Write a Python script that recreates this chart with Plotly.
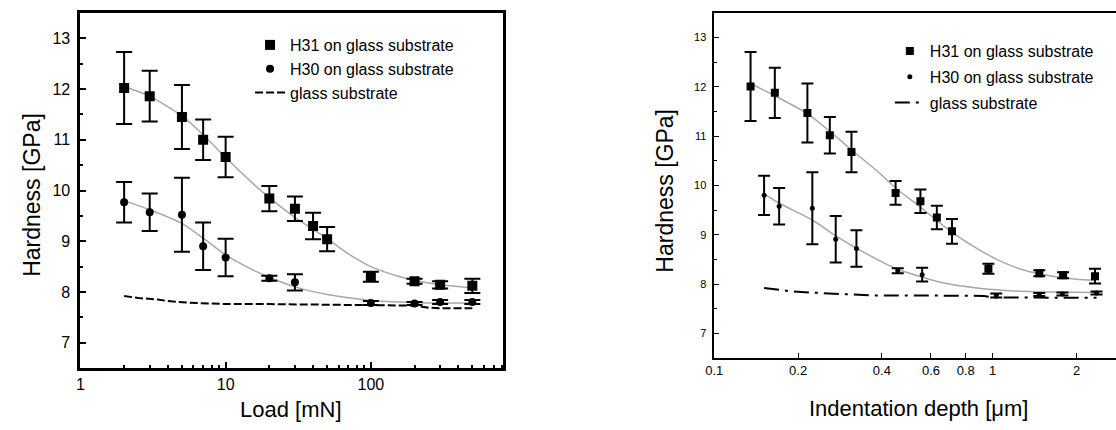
import plotly.graph_objects as go

W, H = 1116, 430

# ---------------- Left panel: Hardness vs Load ----------------
load_h31 = [2, 3, 5, 7, 10, 20, 30, 40, 50, 100, 200, 300, 500]
h31_load = [12.02, 11.86, 11.45, 11.0, 10.66, 9.84, 9.64, 9.3, 9.04, 8.3, 8.21, 8.14, 8.12]
h31_load_err = [0.71, 0.5, 0.63, 0.4, 0.4, 0.25, 0.24, 0.26, 0.24, 0.1, 0.05, 0.07, 0.14]

load_h30 = [2, 3, 5, 7, 10, 20, 30, 100, 200, 300, 500]
h30_load = [9.77, 9.57, 9.52, 8.9, 8.68, 8.27, 8.19, 7.78, 7.77, 7.8, 7.8]
h30_load_err = [0.4, 0.37, 0.73, 0.47, 0.37, 0.05, 0.16, 0.04, 0.03, 0.04, 0.04]

fit31_load_x = [2, 3, 5, 7, 10, 15, 20, 30, 50, 70, 100, 150, 200, 300, 500]
fit31_load_y = [12.05, 11.86, 11.47, 11.1, 10.65, 10.17, 9.86, 9.47, 9.05, 8.75, 8.5, 8.32, 8.23, 8.14, 8.08]
fit30_load_x = [2, 3, 5, 7, 10, 15, 20, 30, 50, 100, 200, 300, 500]
fit30_load_y = [9.8, 9.62, 9.35, 9.06, 8.73, 8.45, 8.29, 8.1, 7.95, 7.83, 7.79, 7.78, 7.78]

glass_load_x = [2, 2.5, 3.4, 4, 5.4, 7, 10, 20, 50, 100, 200, 250, 300, 500]
glass_load_y = [7.92, 7.88, 7.85, 7.82, 7.79, 7.78, 7.76, 7.76, 7.75, 7.74, 7.73, 7.69, 7.68, 7.68]

load_ticks = [1, 10, 100]
load_ticktext = ["1", "10", "100"]
load_minor = [2, 3, 4, 5, 6, 7, 8, 9, 20, 30, 40, 50, 60, 70, 80, 90, 200, 300, 400, 500, 600, 700, 800]

# ---------------- Right panel: Hardness vs Indentation depth ----------------
depth_h31 = [0.135, 0.165, 0.216, 0.26, 0.311, 0.448, 0.55, 0.63, 0.714, 0.965, 1.47, 1.79, 2.33]
h31_depth = [12.01, 11.88, 11.47, 11.02, 10.68, 9.85, 9.68, 9.35, 9.07, 8.31, 8.22, 8.18, 8.16]
h31_depth_err = [0.7, 0.51, 0.6, 0.37, 0.41, 0.24, 0.24, 0.24, 0.25, 0.1, 0.06, 0.06, 0.15]

depth_h30 = [0.151, 0.171, 0.225, 0.273, 0.324, 0.456, 0.558, 1.03, 1.47, 1.78, 2.36]
h30_depth = [9.8, 9.58, 9.54, 8.91, 8.72, 8.27, 8.19, 7.77, 7.79, 7.8, 7.82]
h30_depth_err = [0.4, 0.37, 0.73, 0.47, 0.37, 0.05, 0.14, 0.04, 0.03, 0.03, 0.03]

fit31_depth_x = [0.135, 0.165, 0.216, 0.26, 0.311, 0.38, 0.448, 0.55, 0.63, 0.714, 0.91, 1.1, 1.3, 1.6, 2.0, 2.33]
fit31_depth_y = [12.07, 11.82, 11.46, 11.1, 10.72, 10.32, 9.95, 9.56, 9.29, 9.05, 8.67, 8.43, 8.28, 8.17, 8.1, 8.08]
fit30_depth_x = [0.151, 0.171, 0.225, 0.273, 0.324, 0.4, 0.456, 0.558, 0.7, 0.91, 1.2, 1.6, 2.36]
fit30_depth_y = [9.83, 9.64, 9.3, 8.98, 8.73, 8.45, 8.3, 8.14, 8.0, 7.91, 7.86, 7.84, 7.83]

glass_depth_x = [0.151, 0.17, 0.191, 0.22, 0.258, 0.3, 0.362, 0.5, 0.7, 0.93, 1.0, 1.5, 2.0, 2.36]
glass_depth_y = [7.92, 7.88, 7.85, 7.83, 7.81, 7.79, 7.77, 7.77, 7.76, 7.76, 7.73, 7.72, 7.72, 7.72]

depth_ticks = [0.1, 0.2, 0.4, 0.6, 0.8, 1, 2]
depth_ticktext = ["0.1", "0.2", "0.4", "0.6", "0.8", "1", "2"]

hard_ticks = [7, 8, 9, 10, 11, 12, 13]
hard_minor = [6.5, 7.5, 8.5, 9.5, 10.5, 11.5, 12.5, 13.5]

names = ["H31 on glass substrate", "H30 on glass substrate", "glass substrate"]

FONT = "Liberation Sans, Arial, Helvetica, sans-serif"
GRAY = "#a8a8a8"

fig = go.Figure()

fitline = dict(color=GRAY, width=1.5, shape="spline", smoothing=0.5)

# Left panel traces
fig.add_trace(go.Scatter(x=fit31_load_x, y=fit31_load_y, mode="lines", line=fitline,
                         showlegend=False, xaxis="x", yaxis="y"))
fig.add_trace(go.Scatter(x=fit30_load_x, y=fit30_load_y, mode="lines", line=fitline,
                         showlegend=False, xaxis="x", yaxis="y"))
fig.add_trace(go.Scatter(x=load_h31, y=h31_load, mode="markers", name=names[0],
                         marker=dict(symbol="square", size=10, color="black"),
                         error_y=dict(type="data", array=h31_load_err, color="black", thickness=2, width=8),
                         xaxis="x", yaxis="y", legend="legend"))
fig.add_trace(go.Scatter(x=load_h30, y=h30_load, mode="markers", name=names[1],
                         marker=dict(symbol="circle", size=8, color="black"),
                         error_y=dict(type="data", array=h30_load_err, color="black", thickness=2, width=8),
                         xaxis="x", yaxis="y", legend="legend"))
fig.add_trace(go.Scatter(x=glass_load_x, y=glass_load_y, mode="lines", name=names[2],
                         line=dict(color="black", width=2, dash="8px,3px"),
                         xaxis="x", yaxis="y", legend="legend"))

# Right panel traces
fig.add_trace(go.Scatter(x=fit31_depth_x, y=fit31_depth_y, mode="lines", line=fitline,
                         showlegend=False, xaxis="x2", yaxis="y2"))
fig.add_trace(go.Scatter(x=fit30_depth_x, y=fit30_depth_y, mode="lines", line=fitline,
                         showlegend=False, xaxis="x2", yaxis="y2"))
fig.add_trace(go.Scatter(x=depth_h31, y=h31_depth, mode="markers", name=names[0],
                         marker=dict(symbol="square", size=8, color="black"),
                         error_y=dict(type="data", array=h31_depth_err, color="black", thickness=2, width=6),
                         xaxis="x2", yaxis="y2", legend="legend2", legendgroup="a"))
fig.add_trace(go.Scatter(x=depth_h30, y=h30_depth, mode="markers", name=names[1],
                         marker=dict(symbol="circle", size=5, color="black"),
                         error_y=dict(type="data", array=h30_depth_err, color="black", thickness=2, width=6),
                         xaxis="x2", yaxis="y2", legend="legend2", legendgroup="b"))
fig.add_trace(go.Scatter(x=glass_depth_x, y=glass_depth_y, mode="lines", name=names[2],
                         line=dict(color="black", width=2, dash="longdashdot"),
                         xaxis="x2", yaxis="y2", legend="legend2", legendgroup="c"))

def px(x):
    return x / W

def py(y):
    return 1 - y / H

axis_common = dict(showgrid=False, zeroline=False, color="black", ticks="inside", tickcolor="black")

fig.update_layout(
    width=W, height=H,
    margin=dict(l=0, r=0, t=0, b=0),
    paper_bgcolor="white", plot_bgcolor="white",
    font=dict(family=FONT, color="black"),
    xaxis=dict(**axis_common, type="log", domain=[px(72), px(498)], range=[0, 2.91], anchor="y",
               showline=True, linewidth=3, linecolor="black", mirror=True,
               tickvals=load_ticks, ticktext=load_ticktext, ticklen=6, tickwidth=1.5,
               tickfont=dict(size=16, family=FONT),
               minor=dict(tickvals=load_minor, ticks="inside", ticklen=3, tickwidth=1.5, tickcolor="black")),
    yaxis=dict(**axis_common, domain=[py(368), py(13)], range=[6.5, 13.5], anchor="x",
               showline=True, linewidth=3, linecolor="black", mirror=True,
               tickvals=hard_ticks, ticklen=6, tickwidth=1.5, ticklabelstandoff=4,
               tickfont=dict(size=16, family=FONT),
               minor=dict(tickvals=hard_minor, ticks="inside", ticklen=3, tickwidth=1.5, tickcolor="black")),
    xaxis2=dict(**axis_common, type="log", domain=[px(711), 1.0], range=[-1, 0.4428], anchor="y2",
                showline=True, linewidth=1.5, linecolor="black", mirror=True,
                tickvals=depth_ticks, ticktext=depth_ticktext, ticklen=5, tickwidth=1.2,
                tickfont=dict(size=13, family=FONT)),
    yaxis2=dict(**axis_common, domain=[py(358), py(13)], range=[6.5, 13.5], anchor="x2",
                showline=True, linewidth=1.5, linecolor="black", mirror=False,
                tickvals=hard_ticks, ticklen=5, tickwidth=1.2, ticklabelstandoff=4,
                tickfont=dict(size=11, family=FONT),
                minor=dict(tickvals=hard_minor, ticks="inside", ticklen=3, tickwidth=1.2, tickcolor="black")),
    legend=dict(x=px(243), y=py(28), xanchor="left", yanchor="top", bgcolor="rgba(0,0,0,0)",
                font=dict(size=16, family=FONT), itemwidth=30, tracegroupgap=0),
    legend2=dict(x=px(888), y=py(34), xanchor="left", yanchor="top", bgcolor="rgba(0,0,0,0)",
                 font=dict(size=16, family=FONT), itemwidth=30, tracegroupgap=2),
    annotations=[
        dict(text="Hardness [GPa]", x=px(23), y=py(195), xref="paper", yref="paper", textangle=-90,
             showarrow=False, xanchor="center", yanchor="middle", font=dict(size=23, family=FONT)),
        dict(text="Load [mN]", x=px(284), y=py(409), xref="paper", yref="paper",
             showarrow=False, xanchor="center", yanchor="middle", font=dict(size=22, family=FONT)),
        dict(text="Hardness [GPa]", x=px(661), y=py(191), xref="paper", yref="paper", textangle=-90,
             showarrow=False, xanchor="center", yanchor="middle", font=dict(size=23, family=FONT)),
        dict(text="Indentation depth [μm]", x=px(917), y=py(408), xref="paper", yref="paper",
             showarrow=False, xanchor="center", yanchor="middle", font=dict(size=22, family=FONT)),
    ],
)

fig.write_html("out.html")
